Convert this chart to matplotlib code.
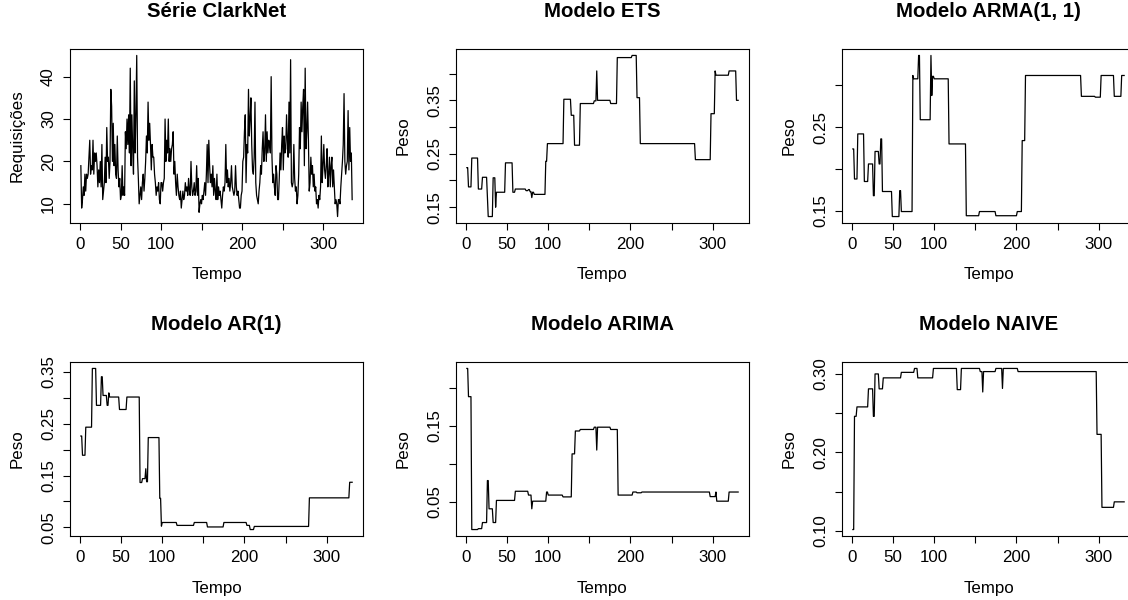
import numpy as np
import matplotlib
matplotlib.use("Agg")
import matplotlib.pyplot as plt

plt.rcParams['font.family'] = ['Liberation Sans', 'DejaVu Sans']

# Série ClarkNet (requisições por instante)
clarknet = [
    19, 9, 11, 14, 12, 17, 13, 17, 16, 17,
    21, 25, 17, 19, 18, 25, 17, 22, 20, 22,
    19, 14, 18, 15, 20, 14, 24, 11, 13, 15,
    21, 15, 28, 20, 21, 16, 20, 37, 33, 20,
    29, 19, 24, 17, 16, 26, 18, 14, 16, 11,
    12, 19, 12, 14, 12, 27, 23, 30, 24, 31,
    22, 42, 19, 31, 23, 17, 39, 22, 31, 45,
    21, 16, 10, 12, 14, 11, 15, 17, 13, 16,
    20, 26, 22, 34, 25, 29, 24, 18, 24, 21,
    21, 17, 15, 12, 14, 13, 15, 11, 10, 15,
    15, 13, 15, 16, 30, 20, 25, 22, 30, 20,
    23, 20, 23, 24, 27, 17, 20, 15, 12, 17,
    14, 12, 11, 13, 9, 11, 13, 11, 12, 15,
    13, 14, 12, 16, 13, 12, 20, 14, 12, 13,
    15, 12, 13, 19, 12, 16, 8, 10, 11, 10,
    12, 11, 13, 15, 12, 17, 24, 15, 25, 19,
    15, 17, 14, 19, 12, 16, 13, 11, 17, 11,
    14, 12, 13, 11, 9, 12, 14, 13, 15, 24,
    15, 18, 14, 16, 13, 15, 19, 14, 13, 12,
    13, 19, 14, 12, 13, 11, 9, 9, 12, 13,
    20, 21, 27, 31, 15, 24, 22, 37, 26, 30,
    35, 24, 18, 17, 21, 34, 15, 12, 11, 10,
    13, 15, 19, 17, 23, 27, 20, 22, 31, 20,
    27, 22, 25, 24, 22, 40, 21, 15, 17, 14,
    12, 19, 17, 11, 11, 16, 22, 18, 24, 28,
    18, 26, 22, 23, 31, 25, 21, 34, 22, 44,
    15, 14, 15, 24, 16, 13, 14, 10, 12, 17,
    28, 23, 34, 27, 33, 37, 19, 42, 23, 27,
    34, 25, 13, 15, 21, 17, 19, 14, 17, 13,
    14, 10, 11, 9, 12, 11, 14, 26, 15, 19,
    24, 18, 16, 19, 23, 14, 17, 21, 14, 19,
    21, 14, 18, 14, 10, 11, 10, 7, 11, 11,
    10, 14, 17, 20, 24, 36, 20, 17, 19, 20,
    32, 18, 28, 20, 22, 11,
]

# Pesos dos modelos: instante em que cada patamar começa e o seu valor
n_pesos = 331

ets_start = [1, 3, 7, 15, 20, 26, 27, 33, 36, 37, 48, 57, 60, 73, 76, 78, 80, 81,
             83, 97, 99, 119, 128, 132, 139, 156, 159, 160, 176, 184, 202, 208,
             212, 279, 298, 303, 304, 320, 329]
ets_peso = [0.224, 0.188, 0.242, 0.184, 0.206, 0.170, 0.1325, 0.205, 0.150, 0.178,
            0.233, 0.178, 0.184, 0.181, 0.183, 0.179, 0.168, 0.178, 0.174, 0.236,
            0.269, 0.352, 0.322, 0.266, 0.344, 0.349, 0.405, 0.350, 0.344, 0.430,
            0.434, 0.355, 0.269, 0.239, 0.325, 0.405, 0.397, 0.405, 0.350]

arma_start = [1, 3, 7, 15, 20, 26, 28, 33, 35, 37, 49, 58, 60, 74, 75, 81, 83, 96,
              97, 98, 100, 118, 139, 155, 175, 201, 207, 211, 279, 296, 303, 319, 328]
arma_peso = [0.224, 0.188, 0.242, 0.185, 0.206, 0.168, 0.221, 0.206, 0.236, 0.173,
             0.143, 0.174, 0.149, 0.312, 0.308, 0.336, 0.259, 0.336, 0.288, 0.311,
             0.308, 0.230, 0.144, 0.149, 0.144, 0.149, 0.234, 0.312, 0.287, 0.286,
             0.312, 0.287, 0.312]

ar1_start = [1, 3, 7, 15, 20, 26, 28, 33, 35, 36, 48, 57, 73, 76, 80, 81, 83, 97,
             99, 100, 118, 139, 155, 175, 203, 207, 212, 279, 328]
ar1_peso = [0.226, 0.189, 0.243, 0.356, 0.285, 0.340, 0.304, 0.285, 0.309, 0.301,
            0.277, 0.301, 0.1365, 0.144, 0.163, 0.138, 0.223, 0.106, 0.0525, 0.0596,
            0.054, 0.0596, 0.051, 0.0596, 0.054, 0.046, 0.052, 0.107, 0.137]

arima_start = [1, 3, 7, 15, 20, 26, 28, 33, 37, 60, 76, 80, 81, 98, 100, 118, 129,
               133, 139, 156, 159, 160, 176, 185, 203, 208, 214, 297, 304, 305, 320]
arima_peso = [0.225, 0.188, 0.0138, 0.015, 0.023, 0.078, 0.041, 0.023, 0.052, 0.064,
              0.059, 0.041, 0.051, 0.063, 0.059, 0.0566, 0.113, 0.143, 0.145, 0.148,
              0.118, 0.148, 0.145, 0.059, 0.063, 0.062, 0.063, 0.057, 0.063, 0.051,
              0.063]

naive_start = [1, 3, 6, 20, 26, 28, 33, 38, 60, 76, 80, 99, 128, 133, 156, 159, 160,
               175, 183, 184, 202, 298, 304, 319]
naive_peso = [0.1017, 0.246, 0.258, 0.281, 0.246, 0.300, 0.281, 0.295, 0.302, 0.307,
              0.295, 0.307, 0.280, 0.307, 0.303, 0.277, 0.303, 0.307, 0.2815, 0.307,
              0.303, 0.223, 0.130, 0.137]

x_ticks = [0, 50, 100, 150, 200, 250, 300]
x_labels = ['0', '50', '100', '', '200', '', '300']


def patamares(starts, pesos, n):
    lengths = np.diff(starts + [n + 1])
    return np.repeat(pesos, lengths)


panels = [
    ("Série ClarkNet", "Requisições", np.array(clarknet, dtype=float),
     [10, 20, 30, 40], ['10', '20', '30', '40']),
    ("Modelo ETS", "Peso", patamares(ets_start, ets_peso, n_pesos),
     [0.15, 0.20, 0.25, 0.30, 0.35, 0.40], ['0.15', '', '0.25', '', '0.35', '']),
    ("Modelo ARMA(1, 1)", "Peso", patamares(arma_start, arma_peso, n_pesos),
     [0.15, 0.20, 0.25, 0.30], ['0.15', '', '0.25', '']),
    ("Modelo AR(1)", "Peso", patamares(ar1_start, ar1_peso, n_pesos),
     [0.05, 0.10, 0.15, 0.20, 0.25, 0.30, 0.35],
     ['0.05', '', '0.15', '', '0.25', '', '0.35']),
    ("Modelo ARIMA", "Peso", patamares(arima_start, arima_peso, n_pesos),
     [0.05, 0.10, 0.15, 0.20], ['0.05', '', '0.15', '']),
    ("Modelo NAIVE", "Peso", patamares(naive_start, naive_peso, n_pesos),
     [0.10, 0.15, 0.20, 0.25, 0.30], ['0.10', '', '0.20', '', '0.30']),
]

W, H = 1128, 600
fig = plt.figure(figsize=(W / 100, H / 100), dpi=100)

col_left = [70, 456, 842]
row_top = [49, 362]
bw, bh = 293, 174

for i, (title, ylabel, y, yt, ytl) in enumerate(panels):
    r, c = divmod(i, 3)
    ax = fig.add_axes([col_left[c] / W, (H - row_top[r] - bh) / H, bw / W, bh / H])
    x = np.arange(1, len(y) + 1)
    ax.plot(x, y, color='black', lw=0.9)
    ax.margins(x=0.04, y=0.04)

    ax.set_xticks(x_ticks)
    ax.set_xticklabels(x_labels)
    ax.set_yticks(yt)
    ax.set_yticklabels(ytl, rotation=90, va='center')
    ax.tick_params(direction='out', length=5, width=0.8, pad=5, labelsize=12.2)

    for s in ax.spines.values():
        s.set_linewidth(0.8)

    ax.set_title(title, fontsize=14.7, fontweight='bold', y=1 + 29 / bh, va='center')
    ax.set_xlabel("Tempo", fontsize=12.2, va='center')
    ax.xaxis.set_label_coords(0.5, -52 / bh)
    ax.set_ylabel(ylabel, fontsize=12.2, va='center')
    ax.yaxis.set_label_coords(-53 / bw, 0.5)

fig.savefig("out.png", dpi=100)
